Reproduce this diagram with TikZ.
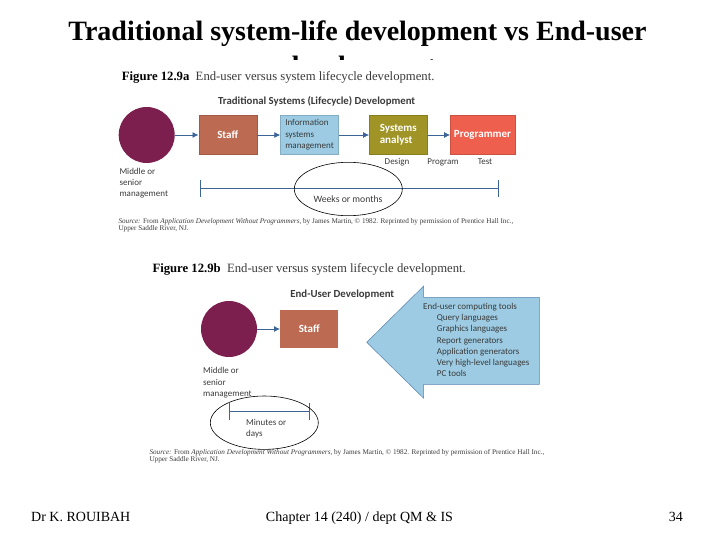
\documentclass[tikz,border=0pt]{standalone}
\usepackage{fontspec}
\setmainfont{Liberation Serif}
\setsansfont{Carlito}
\usetikzlibrary{arrows.meta,shapes.geometric}
\definecolor{mgmtcolor}{HTML}{7C1F4F}
\definecolor{staffcolor}{HTML}{BC6A52}
\definecolor{infocolor}{HTML}{9CCBE3}
\definecolor{analystcolor}{HTML}{A09426}
\definecolor{progcolor}{HTML}{EE5F4E}
\definecolor{linecolor}{HTML}{3C6496}
\definecolor{labelcolor}{HTML}{3A3A3A}
\tikzset{
  slidetitle/.style={inner sep=0pt, anchor=base, font=\bfseries\fontsize{28}{32}\selectfont},
  fig/.style={inner sep=0pt, anchor=west, align=left, text=labelcolor, font=\sffamily\fontsize{9}{11.2}\selectfont},
  figtitle/.style={inner sep=0pt, anchor=west, font=\fontsize{12.7}{14}\selectfont},
  figsource/.style={inner sep=0pt, anchor=west, align=left, text=labelcolor, font=\fontsize{7.2}{6.5}\selectfont},
  heading/.style={inner sep=0pt, text=labelcolor, font=\sffamily\bfseries\fontsize{10.8}{12}\selectfont},
  footer/.style={inner sep=0pt, anchor=base, font=\fontsize{14}{16}\selectfont},
  mgmt/.style={circle, fill=mgmtcolor, minimum size=56pt, inner sep=0pt},
  boxnode/.style={draw=#1!85!black, fill=#1, minimum width=58pt, minimum height=38.6pt, inner sep=0pt, text=white, font=\sffamily\bfseries\fontsize{11}{12.5}\selectfont},
  flow/.style={-{Latex[length=6pt,width=6pt]}, linecolor, line width=0.8pt},
  span/.style={{Bar[width=17pt]}-{Bar[width=17pt]}, linecolor, line width=0.9pt},
  ring/.style={ellipse, draw=black, line width=0.6pt, minimum width=108pt, minimum height=53.4pt, inner sep=0pt}
}
\begin{document}
\begin{tikzpicture}[x=1pt,y=-1pt]
    \useasboundingbox (0,0) rectangle (720,540);
    %% title, second line runs under the figure
    \node[slidetitle] (titleone) at (357.5,41) {Traditional system-life development vs End-user};
    \node[slidetitle] (titletwo) at (360,76) {development};
    \fill[white] (100,60) rectangle (620,84);
    %% figure 12.9a
    \node[figtitle] (figa) at (121.7,77.3) {\textbf{Figure 12.9a}\ \ \textcolor{labelcolor}{End-user versus system lifecycle development.}};
    \node[heading] (heada) at (316.7,101) {Traditional Systems (Lifecycle) Development};
    \node[mgmt] (mgmta) at (146.7,135) {};
    \node[boxnode=staffcolor] (staffa) at (227.7,135) {Staff};
    \node[boxnode=infocolor, text=labelcolor, font=\sffamily\fontsize{9}{11.5}\selectfont, align=left] (info) at (309.5,135) {Information\\systems\\management};
    \node[boxnode=analystcolor, align=left] (analyst) at (398.3,135) {Systems\\analyst};
    \node[boxnode=progcolor, minimum width=64.4pt] (prog) at (482.5,135) {Programmer};
    \draw[flow] (mgmta) -- (staffa);
    \draw[flow] (staffa) -- (info);
    \draw[flow] (info) -- (analyst);
    \draw[flow] (analyst) -- (prog);
    \node[fig, anchor=center] (design) at (397,162) {Design};
    \node[fig, anchor=center] (program) at (443,162) {Program};
    \node[fig, anchor=center] (test) at (485,162) {Test};
    \node[fig] (mgmtlabela) at (119.3,183) {Middle or\\senior\\management};
    \coordinate (spanaleft) at (199.7,188.3);
    \coordinate (spanaright) at (498.7,188.3);
    \draw[span] (spanaleft) -- (spanaright);
    \node[fig, anchor=center, font=\sffamily\fontsize{9.7}{11}\selectfont] (weeks) at (348,198.7) {Weeks or months};
    \node[ring] (ringa) at (348.3,189) {};
    \node[figsource] (sourcea) at (118.3,225.3) {\textit{Source:} From \textit{Application Development Without Programmers,} by James Martin, © 1982. Reprinted by permission of Prentice Hall Inc.,\\Upper Saddle River, NJ.};
    %% figure 12.9b
    \node[figtitle] (figb) at (152.3,269.3) {\textbf{Figure 12.9b}\ \ \textcolor{labelcolor}{End-user versus system lifecycle development.}};
    \node[heading] (headb) at (342.3,295) {End-User Development};
    \node[mgmt] (mgmtb) at (229,329) {};
    \node[boxnode=staffcolor, draw=none] (staffb) at (309.2,329) {Staff};
    \draw[flow] (mgmtb) -- (staffb);
    \draw[draw=linecolor!70!infocolor, fill=infocolor, line width=0.5pt] (366.7,342.3) -- (423.7,286) -- (423.7,297.3) -- (539.3,297.3) -- (539.3,384.3) -- (423.7,384.3) -- (423.7,398.3) -- cycle;
    \node[fig] (toolstitle) at (423,306.7) {End-user computing tools};
    \node[fig] (tools) at (436.7,345.7) {Query languages\\Graphics languages\\Report generators\\Application generators\\Very high-level languages\\PC tools};
    \node[fig] (mgmtlabelb) at (203,382.8) {Middle or\\senior\\management};
    \coordinate (spanbleft) at (228.7,411.7);
    \coordinate (spanbright) at (310.3,411.7);
    \draw[span] (spanbleft) -- (spanbright);
    \node[fig] (minutes) at (246,429) {Minutes or\\days};
    \node[ring] (ringb) at (264.3,422.7) {};
    \node[figsource] (sourceb) at (149.3,456.3) {\textit{Source:} From \textit{Application Development Without Programmers,} by James Martin, © 1982. Reprinted by permission of Prentice Hall Inc.,\\Upper Saddle River, NJ.};
    %% footer
    \node[footer, anchor=base west] (author) at (31,521) {Dr K. ROUIBAH};
    \node[footer] (chapter) at (359.5,521) {Chapter 14 (240) / dept QM \& IS};
    \node[footer, anchor=base east] (page) at (683,521) {34};
\end{tikzpicture}
\end{document}
